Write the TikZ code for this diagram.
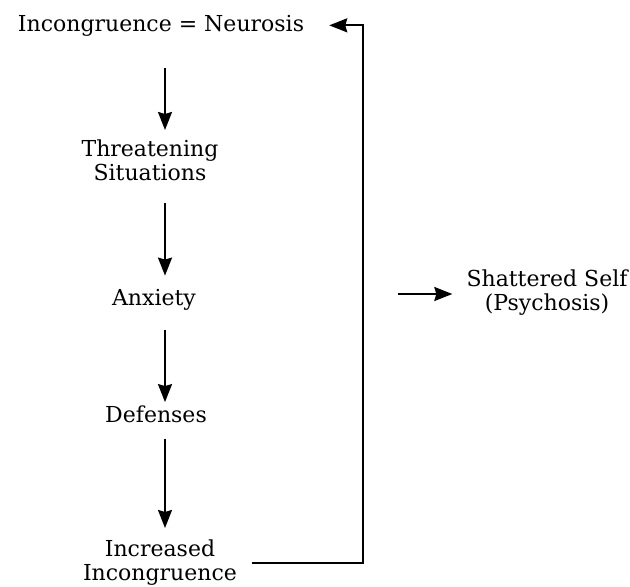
\documentclass[tikz,border=0pt]{standalone}
\usepackage{fontspec}
\setmainfont{DejaVu Serif}
\usetikzlibrary{arrows.meta}
\begin{document}
\begin{tikzpicture}[x=1pt,y=-1pt,
>={Stealth[length=18pt,width=14pt,inset=2pt]},
stage/.style ={inner sep=0pt, align=center,
  font=\fontsize{22}{24}\selectfont
},
flow/.style ={line width=2pt, ->}]
\useasboundingbox (0,0) rectangle (630,587);
\coordinate (spine) at (165,0);
\coordinate (rail) at (363,300);
\coordinate (exit) at (398,294);
\node (top) at (161,31) [stage,anchor=base] {Incongruence = Neurosis};
\node (threat) at (150,140) [stage,anchor=north] {Threatening\\Situations};
\node (anx) at (154,305) [stage,anchor=base] {Anxiety};
\node (def) at (156,422) [stage,anchor=base] {Defenses};
\node (incr) at (160,540) [stage,anchor=north] {Increased\\Incongruence};
\node (shat) at (547,270) [stage,anchor=north] {Shattered Self\\(Psychosis)};
% the chain down the left
\draw[flow,shorten <=32pt,shorten >=10pt] (top.south -| spine) -- (threat.north -| spine);
\draw[flow,shorten <=22pt,shorten >=13pt] (threat.south -| spine) -- (anx.north -| spine);
\draw[flow,shorten <=20pt,shorten >=3pt] (anx.south -| spine) -- (def.north -| spine);
\draw[flow,shorten <=16pt,shorten >=12pt] (def.south -| spine) -- (incr.north -| spine);
% back to the top
\draw[flow,shorten <=15pt,shorten >=25pt] (incr.east) -| (rail) |- (top.east);
\draw[flow,shorten >=14pt] (exit) -- (exit -| shat.west);
\end{tikzpicture}
\end{document}
